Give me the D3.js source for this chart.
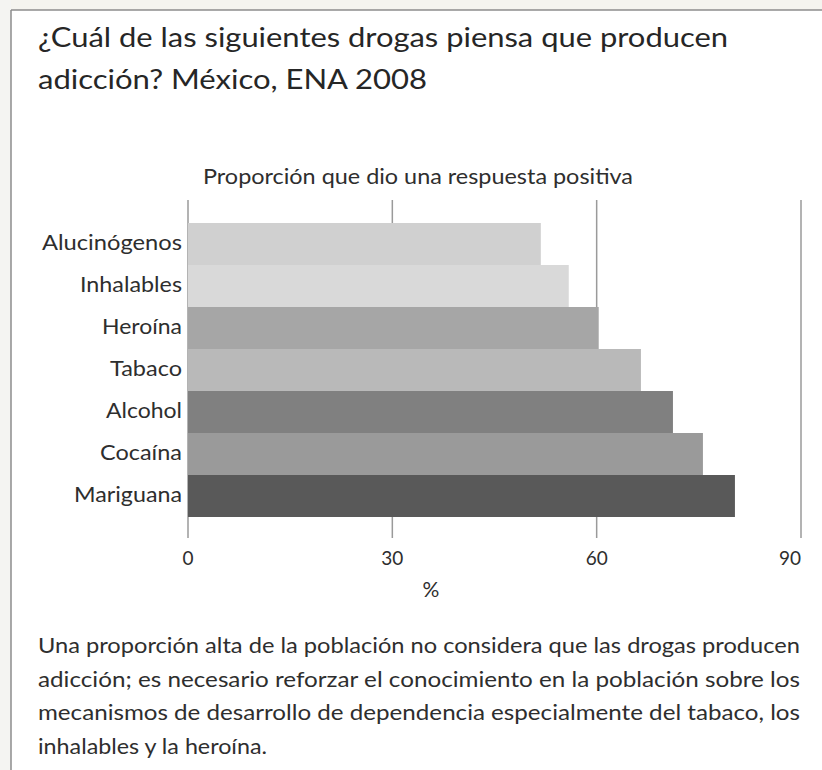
<!DOCTYPE html>
<html>
<head>
<meta charset="utf-8">
<script src="https://cdn.jsdelivr.net/npm/d3@7"></script>
<style>
  body { margin: 0; background: #fff; }
  svg text { font-family: "Lato", "Open Sans", sans-serif; fill: #2e2e2e; }
</style>
</head>
<body>
<div id="chart"></div>
<script>
// data
const drugs = ["Alucinógenos", "Inhalables", "Heroína", "Tabaco", "Alcohol", "Cocaína", "Mariguana"];
const pct = [51.8, 55.9, 60.3, 66.5, 71.2, 75.6, 80.3];
const barColors = ["#d0d0d0", "#d9d9d9", "#a6a6a6", "#b9b9b9", "#808080", "#9a9a9a", "#595959"];
const xTicks = [0, 30, 60, 90];

const titleLines = ["¿Cuál de las siguientes drogas piensa que producen", "adicción? México, ENA 2008"];
const subtitle = "Proporción que dio una respuesta positiva";
const noteLines = [
  "Una proporción alta de la población no considera que las drogas producen",
  "adicción; es necesario reforzar el conocimiento en la población sobre los",
  "mecanismos de desarrollo de dependencia especialmente del tabaco, los",
  "inhalables y la heroína."
];

// widths the text takes in the picture (the original font is narrower)
const titleWidths = [690, 389];
const labelWidths = [140, 102, 80, 72, 76, 82, 108];
const noteWidths = [762, 762, 762, 229];

const W = 822, H = 770;
const svg = d3.select("#chart").append("svg")
  .attr("width", W).attr("height", H);

// faint page edge outside the frame
svg.append("rect").attr("x", 0).attr("y", 0).attr("width", W).attr("height", 10).attr("fill", "#f5f4ef");
svg.append("rect").attr("x", 0).attr("y", 0).attr("width", 11).attr("height", H).attr("fill", "#f4f4f2");

// frame
svg.append("line").attr("x1", 11).attr("x2", W).attr("y1", 10).attr("y2", 10)
  .attr("stroke", "#8c8c8c").attr("stroke-width", 1.5);
svg.append("line").attr("x1", 11).attr("x2", 11).attr("y1", 10).attr("y2", H)
  .attr("stroke", "#8c8c8c").attr("stroke-width", 1.5);

// title
svg.selectAll(".title").data(titleLines).join("text")
  .attr("x", 38).attr("y", (d, i) => 47 + i * 42)
  .attr("font-size", 26)
  .attr("textLength", (d, i) => titleWidths[i])
  .attr("lengthAdjust", "spacingAndGlyphs")
  .style("fill", "#262626")
  .text(d => d);

const x = d3.scaleLinear().domain([0, 90]).range([188, 801]);
const y = d3.scaleBand().domain(drugs).range([223, 517]).padding(0);

// subtitle
svg.append("text")
  .attr("x", 203).attr("y", 184)
  .attr("font-size", 21)
  .attr("textLength", 430).attr("lengthAdjust", "spacingAndGlyphs")
  .text(subtitle);

// grid lines
svg.append("g").selectAll("line").data(xTicks).join("line")
  .attr("x1", d => x(d)).attr("x2", d => x(d))
  .attr("y1", 200).attr("y2", 538)
  .attr("stroke", "#9a9a9a").attr("stroke-width", 1.5);

// bars
svg.append("g").selectAll("rect").data(drugs).join("rect")
  .attr("x", x(0))
  .attr("y", d => y(d))
  .attr("width", (d, i) => x(pct[i]) - x(0))
  .attr("height", y.bandwidth())
  .attr("fill", (d, i) => barColors[i]);

// category labels
svg.append("g").selectAll("text").data(drugs).join("text")
  .attr("x", 182)
  .attr("y", d => y(d) + y.bandwidth() / 2 + 6)
  .attr("text-anchor", "end")
  .attr("font-size", 22)
  .attr("textLength", (d, i) => labelWidths[i])
  .attr("lengthAdjust", "spacingAndGlyphs")
  .text(d => d);

// tick labels
svg.append("g").selectAll("text").data(xTicks).join("text")
  .attr("x", d => x(d)).attr("y", 565)
  .attr("text-anchor", (d, i) => i === xTicks.length - 1 ? "end" : "middle")
  .attr("font-size", 19)
  .text(d => d);

svg.append("text")
  .attr("x", 431).attr("y", 597)
  .attr("text-anchor", "middle")
  .attr("font-size", 21)
  .text("%");

// note
svg.append("g").selectAll("text").data(noteLines).join("text")
  .attr("x", 38).attr("y", (d, i) => 653 + i * 33.7)
  .attr("font-size", 21)
  .attr("textLength", (d, i) => noteWidths[i])
  .attr("lengthAdjust", "spacingAndGlyphs")
  .text(d => d);
</script>
</body>
</html>
